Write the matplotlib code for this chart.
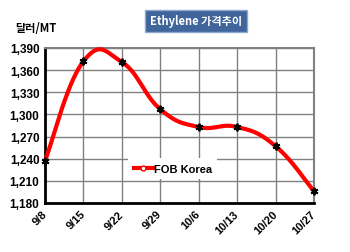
import numpy as np
import matplotlib
matplotlib.use('Agg')
import matplotlib.pyplot as plt
import matplotlib.transforms as mtransforms
from matplotlib.lines import Line2D

plt.rcParams['font.family'] = ['Liberation Sans', 'Noto Sans CJK KR', 'DejaVu Sans']

dates = ['9/8', '9/15', '9/22', '9/29', '10/6', '10/13', '10/20', '10/27']
fob_korea = [1237, 1372, 1371, 1307, 1283, 1283, 1257, 1196]
yticks = [1180, 1210, 1240, 1270, 1300, 1330, 1360, 1390]


# Excel-like smoothed line (Bezier through the points, a bit looser than Catmull-Rom)
def smooth(xs, ys, n=30, k=1.3):
    xs = np.asarray(xs, float); ys = np.asarray(ys, float)
    px = np.concatenate([[xs[0]], xs, [xs[-1]]])
    py = np.concatenate([[ys[0]], ys, [ys[-1]]])
    t = np.linspace(0, 1, n)[:, None]
    out = []
    for i in range(1, len(px) - 2):
        p0 = np.array([px[i - 1], py[i - 1]]); p1 = np.array([px[i], py[i]])
        p2 = np.array([px[i + 1], py[i + 1]]); p3 = np.array([px[i + 2], py[i + 2]])
        c1 = p1 + k * (p2 - p0) / 6
        c2 = p2 - k * (p3 - p1) / 6
        out.append((1 - t) ** 3 * p1 + 3 * (1 - t) ** 2 * t * c1 + 3 * (1 - t) * t ** 2 * c2 + t ** 3 * p2)
    out = np.vstack(out)
    return out[:, 0], out[:, 1]


fig = plt.figure(figsize=(3.5, 2.53), dpi=100)
ax = fig.add_axes([45 / 350, 1 - 204 / 253, 269 / 350, 155 / 253])

x = np.arange(len(dates))
sx, sy = smooth(x, fob_korea)
ax.plot(sx, sy, color='#ff0000', lw=3, solid_capstyle='round', zorder=3, clip_on=False)
ax.plot(x, fob_korea, ls='none', marker=(6, 2, 0), ms=5.5, mew=1.4, color='black',
        zorder=4, clip_on=False)

ax.set_xlim(0, len(dates) - 1)
ax.set_ylim(1180, 1390)
ax.set_xticks(x)
ax.set_xticklabels(dates, rotation=45, ha='right', va='center', rotation_mode='anchor',
                   fontsize=8, fontweight='bold')
shift = mtransforms.ScaledTranslation(4 / 100, 0, fig.dpi_scale_trans)
for lab in ax.get_xticklabels():
    lab.set_transform(lab.get_transform() + shift)
ax.set_yticks(yticks)
ax.set_yticklabels([f'{v:,}' for v in yticks], fontsize=8.5, fontweight='bold')
ax.tick_params(length=0, pad=4)
ax.tick_params(axis='x', pad=6.5)

ax.grid(True, color='#808080', lw=1)
ax.set_axisbelow(True)
for s in ['left', 'bottom']:
    ax.spines[s].set_color('black')
    ax.spines[s].set_linewidth(2)
for s in ['top', 'right']:
    ax.spines[s].set_color('#808080')
    ax.spines[s].set_linewidth(1.5)

handle = Line2D([], [], color='#ff0000', lw=3, marker='o', ms=3.5, mfc='white', mec='#ff0000')
leg = ax.legend([handle], ['FOB Korea'], loc='center', bbox_to_anchor=(0.475, 0.22),
                frameon=True, fancybox=False, framealpha=1, edgecolor='none',
                prop={'weight': 'bold', 'size': 8}, handlelength=1.7, handletextpad=0.1,
                borderpad=0.5)
leg.set_zorder(2)

fig.text(15 / 350, 1 - 28 / 253, '달러/MT', fontsize=8, fontweight='bold',
         ha='left', va='center', family=['Noto Sans CJK KR', 'DejaVu Sans'])
fig.text(196 / 350, 1 - 22 / 253, 'Ethylene 가격추이', fontsize=8, color='white',
         fontweight='bold', ha='center', va='center',
         family=['Noto Sans CJK KR', 'DejaVu Sans'],
         bbox=dict(boxstyle='square,pad=0.4', fc='#3f659b', ec='#8ea9cf', lw=1))

fig.savefig('out.png', dpi=100)
